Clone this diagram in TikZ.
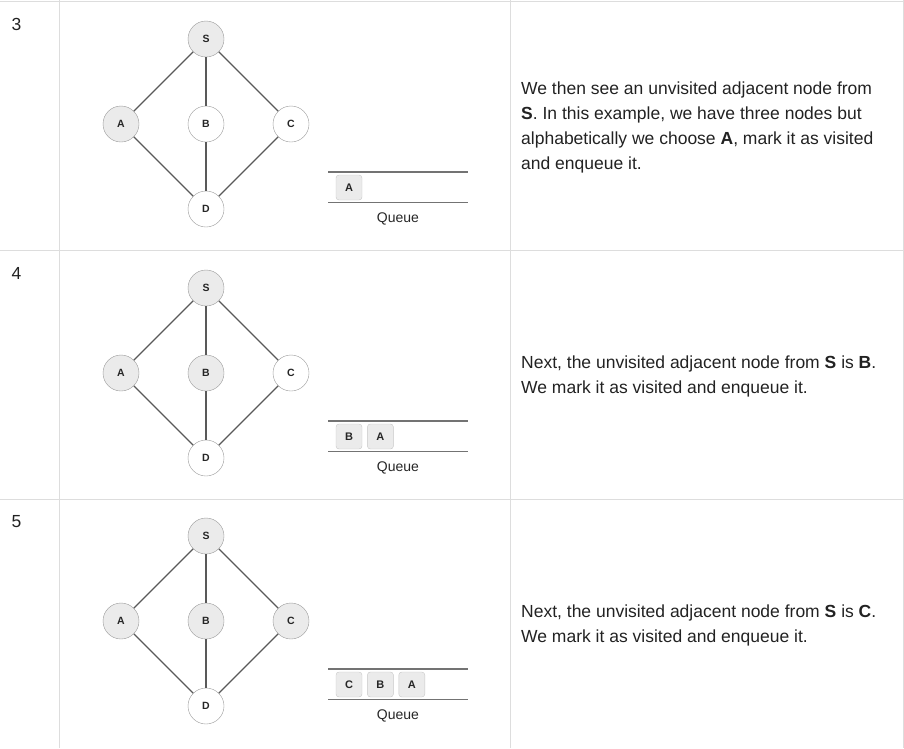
\documentclass[tikz,border=0pt]{standalone}
\usepackage{fontspec}
\setmainfont{Liberation Sans}
\usetikzlibrary{positioning}
\definecolor{gridline}{HTML}{DDDDDD}
\definecolor{edgegray}{HTML}{595959}
\definecolor{visited}{HTML}{EBEBEB}
\definecolor{txt}{HTML}{222222}

\begin{document}
\begin{tikzpicture}[x=1pt,y=-1pt,node distance=85pt,
                    edgeline/.style={draw=edgegray,line width=1.1pt}]
	  \tikzstyle{vertex}=[circle,draw=black!40,fill=white,minimum size=36pt,inner sep=0pt,
	                      font=\fontsize{10.5}{10.5}\selectfont\bfseries,text=black!85]
	  \tikzstyle{seen}=[vertex,fill=visited]
	  \tikzstyle{qbox}=[rounded corners=3pt,draw=black!22,fill=visited,minimum width=26pt,
	                    minimum height=25pt,inner sep=0pt,font=\fontsize{11}{11}\selectfont\bfseries,text=black!85]
	  \tikzstyle{qline}=[draw=black!55,line width=1.5pt]
	  \tikzstyle{qlabel}=[font=\fontsize{14}{14}\selectfont,text=black!85]
	  \tikzstyle{info}=[anchor=north west,align=left,inner sep=0pt,font=\fontsize{17.5}{25}\selectfont,text=txt]
	  \tikzstyle{stepno}=[anchor=base west,inner sep=0pt,font=\fontsize{17.5}{17.5}\selectfont,text=txt]

	  \useasboundingbox (0,0) rectangle (904,748);

	  % table rules
	  \draw[gridline,line width=1pt] (0,1) -- (904,1)
	  (0,250) -- (904,250)
	  (0,499) -- (904,499)
	  (59.5,0) -- (59.5,748)
	  (510.5,0) -- (510.5,748)
	  (903,0) -- (903,748);

	  % step 3
	  \node[stepno]        (n3) at (11.5,30.5)    {3};
	  \node[vertex]        (b3) at (206,124)      {B};
	  \node[seen]          (s3) [above of=b3]     {S};
	  \node[seen]          (a3) [left of=b3]      {A};
	  \node[vertex]        (c3) [right of=b3]     {C};
	  \node[vertex]        (d3) [below of=b3]     {D};

	  \path (s3) edge[edgeline] (a3)
	  (s3) edge[edgeline] (b3)
	  (s3) edge[edgeline] (c3)
	  (a3) edge[edgeline] (d3)
	  (b3) edge[edgeline] (d3)
	  (c3) edge[edgeline] (d3);

	  \coordinate (q3tl) at (328,172);
	  \coordinate (q3tr) at (468,172);
	  \coordinate (q3bl) at (328,202.5);
	  \coordinate (q3br) at (468,202.5);
	  \draw[qline] (q3tl) -- (q3tr) (q3bl) -- (q3br);
	  \node[qbox]          (q3a) at (349,187.5)   {A};
	  \node[qlabel]        (q3)  at (398,218.5)   {Queue};

	  \node[info]          (t3) at (521,81.5)     {We then see an unvisited adjacent node from\\
	    \textbf{S}. In this example, we have three nodes but\\
	    alphabetically we choose \textbf{A}, mark it as visited\\
	    and enqueue it.};

	  % step 4
	  \node[stepno]        (n4) at (11.5,279.5)   {4};
	  \node[seen]          (b4) at (206,373)      {B};
	  \node[seen]          (s4) [above of=b4]     {S};
	  \node[seen]          (a4) [left of=b4]      {A};
	  \node[vertex]        (c4) [right of=b4]     {C};
	  \node[vertex]        (d4) [below of=b4]     {D};

	  \path (s4) edge[edgeline] (a4)
	  (s4) edge[edgeline] (b4)
	  (s4) edge[edgeline] (c4)
	  (a4) edge[edgeline] (d4)
	  (b4) edge[edgeline] (d4)
	  (c4) edge[edgeline] (d4);

	  \coordinate (q4tl) at (328,421);
	  \coordinate (q4tr) at (468,421);
	  \coordinate (q4bl) at (328,451.5);
	  \coordinate (q4br) at (468,451.5);
	  \draw[qline] (q4tl) -- (q4tr) (q4bl) -- (q4br);
	  \node[qbox]          (q4b) at (349,436.5)   {B};
	  \node[qbox]          (q4a) [right=5pt of q4b] {A};
	  \node[qlabel]        (q4)  at (398,467.5)   {Queue};

	  \node[info]          (t4) at (521,355.5)    {Next, the unvisited adjacent node from \textbf{S} is \textbf{B}.\\
	    We mark it as visited and enqueue it.};

	  % step 5
	  \node[stepno]        (n5) at (11.5,527.5)   {5};
	  \node[seen]          (b5) at (206,621)      {B};
	  \node[seen]          (s5) [above of=b5]     {S};
	  \node[seen]          (a5) [left of=b5]      {A};
	  \node[seen]          (c5) [right of=b5]     {C};
	  \node[vertex]        (d5) [below of=b5]     {D};

	  \path (s5) edge[edgeline] (a5)
	  (s5) edge[edgeline] (b5)
	  (s5) edge[edgeline] (c5)
	  (a5) edge[edgeline] (d5)
	  (b5) edge[edgeline] (d5)
	  (c5) edge[edgeline] (d5);

	  \coordinate (q5tl) at (328,669);
	  \coordinate (q5tr) at (468,669);
	  \coordinate (q5bl) at (328,699.5);
	  \coordinate (q5br) at (468,699.5);
	  \draw[qline] (q5tl) -- (q5tr) (q5bl) -- (q5br);
	  \node[qbox]          (q5c) at (349,684.5)   {C};
	  \node[qbox]          (q5b) [right=5pt of q5c] {B};
	  \node[qbox]          (q5a) [right=5pt of q5b] {A};
	  \node[qlabel]        (q5)  at (398,715.5)   {Queue};

	  \node[info]          (t5) at (521,604.5)    {Next, the unvisited adjacent node from \textbf{S} is \textbf{C}.\\
	    We mark it as visited and enqueue it.};
\end{tikzpicture}
\end{document}
